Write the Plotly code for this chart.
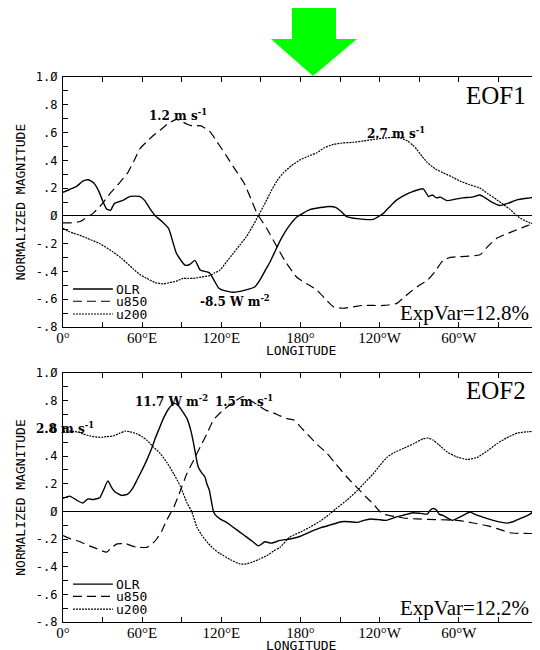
import plotly.graph_objects as go

# ---------------- data ----------------
lon_ticks = [0, 60, 120, 180, 240, 300, 360]
lon_ticktext = ["0°", "60°E", "120°E", "180°", "120°W", "60°W", "0°"]
y_ticks = [1.0, 0.8, 0.6, 0.4, 0.2, 0.0, -0.2, -0.4, -0.6, -0.8]
y_ticktext = ["1.Ø", ".8", ".6", ".4", ".2", "Ø", "-.2", "-.4", "-.6", "-.8"]
series_names = ["OLR", "u850", "u200"]

eof1_olr = [(0,0.17),(5,0.19),(10,0.21),(15,0.25),(19,0.26),(23,0.24),(27,0.18),(30,0.11),(33,0.05),(36,0.04),
            (39,0.09),(45,0.11),(51,0.14),(58,0.14),(62,0.11),(66,0.05),(70,0.0),(75,-0.04),(80,-0.09),(86,-0.27),
            (92.5,-0.355),(96,-0.35),(100,-0.32),(104,-0.39),(111,-0.41),(118,-0.52),(121,-0.535),(129,-0.55),
            (138,-0.535),(145.5,-0.51),(150,-0.45),(154,-0.38),(157,-0.33),(160,-0.27),(164.5,-0.18),(168,-0.12),
            (172,-0.065),(177,-0.01),(182,0.02),(187,0.045),(195,0.06),(202,0.068),(207,0.06),(211,0.03),
            (215,-0.005),(223,-0.02),(235,-0.025),(243,0.02),(248,0.07),(253,0.115),(259,0.15),(265,0.175),
            (273,0.195),(277,0.14),(280,0.15),(283,0.13),(286,0.135),(291,0.11),(297,0.12),(303,0.13),(310,0.135),
            (316,0.15),(320,0.13),(324,0.105),(331,0.075),(337,0.09),(344,0.115),(354,0.13),(360,0.14)]
eof1_u850 = [(0,-0.05),(6,-0.05),(13,-0.04),(18,-0.01),(23,0.02),(30,0.09),(36,0.165),(43,0.24),(49,0.31),
             (54,0.4),(58,0.48),(63,0.53),(68,0.575),(74,0.62),(79,0.66),(86,0.695),(90,0.68),(94,0.66),(99,0.645),
             (104,0.65),(111,0.61),(117,0.53),(124,0.43),(130,0.34),(137,0.24),(143,0.11),(147,0.02),(155,-0.1),
             (162,-0.22),(168,-0.32),(177,-0.44),(185,-0.49),(192.5,-0.535),(199,-0.6),(205,-0.655),(212,-0.665),
             (220,-0.655),(227,-0.645),(235,-0.645),(243,-0.645),(253,-0.63),(258,-0.59),(263,-0.55),(270,-0.5),
             (276,-0.465),(282,-0.4),(288,-0.32),(293,-0.3),(298.5,-0.295),(307,-0.29),(316,-0.28),(322,-0.22),
             (329,-0.16),(336,-0.13),(344,-0.1),(352,-0.07),(360,-0.05)]
eof1_u200 = [(0,-0.09),(4,-0.11),(8,-0.125),(13,-0.14),(18,-0.16),(28,-0.2),(38,-0.26),(45,-0.31),(53,-0.38),
             (58,-0.42),(63.5,-0.45),(70,-0.48),(76,-0.49),(81,-0.48),(86,-0.47),(91,-0.45),(95,-0.45),(99,-0.45),
             (105,-0.44),(111,-0.43),(115,-0.41),(119,-0.39),(124,-0.33),(129,-0.27),(134,-0.21),(139,-0.15),
             (144,-0.07),(148,0.0),(152,0.07),(157,0.165),(162,0.25),(167,0.31),(173,0.36),(180,0.405),(186,0.43),
             (192.5,0.455),(198,0.49),(205,0.515),(212,0.525),(220,0.53),(228,0.54),(235,0.55),(243,0.56),
             (250,0.565),(256,0.56),(261,0.54),(265,0.51),(268,0.48),(272,0.43),(276,0.385),(282,0.34),(288,0.31),
             (295,0.28),(301,0.25),(308,0.225),(316,0.2),(322,0.16),(329,0.115),(334,0.08),(339,0.045),(344,0.0),
             (349,-0.03),(354,-0.05),(360,-0.075)]

eof2_olr = [(0,0.094),(5,0.11),(10.5,0.08),(15,0.06),(19,0.09),(23,0.085),(28,0.10),(31,0.16),(34,0.22),(37,0.17),
            (39.5,0.14),(44.5,0.115),(49,0.125),(53,0.17),(56,0.225),(60,0.3),(63.5,0.37),(67,0.45),(70,0.53),
            (73,0.6),(76,0.67),(80,0.74),(84,0.78),(87,0.77),(90,0.73),(94,0.67),(97,0.58),(99,0.49),(102.5,0.32),
            (105,0.28),(107.5,0.25),(109,0.2),(111,0.15),(112.5,0.07),(114,0.0),(115,-0.02),(119,-0.055),
            (124,-0.08),(129,-0.115),(134,-0.15),(139,-0.185),(144,-0.22),(148,-0.25),(150,-0.24),(153,-0.22),
            (158,-0.23),(164.5,-0.21),(172,-0.2),(180,-0.18),(187,-0.15),(195,-0.12),(202,-0.10),(211,-0.075),
            (217,-0.075),(223,-0.08),(228,-0.065),(233,-0.055),(239,-0.06),(245,-0.065),(253,-0.04),(259,-0.025),
            (265,-0.01),(271,-0.015),(276,-0.02),(278.5,0.01),(280.5,0.02),(283,0.01),(285,-0.02),(288,-0.03),
            (295,-0.065),(301,-0.04),(305,-0.02),(308.5,-0.005),(312,-0.02),(316,-0.035),(326,-0.065),
            (336.5,-0.085),(341,-0.075),(346,-0.055),(354,-0.02),(358,0.02),(360,0.055)]
eof2_u850 = [(0,-0.175),(6,-0.2),(13,-0.22),(20,-0.25),(25.5,-0.27),(33,-0.295),(37,-0.26),(41,-0.235),
             (48,-0.235),(52,-0.25),(56,-0.26),(63.5,-0.26),(67,-0.24),(71,-0.2),(75,-0.14),(78.5,-0.065),
             (84,0.03),(89,0.15),(94,0.275),(99,0.37),(104,0.465),(109,0.56),(114,0.66),(120,0.72),(126.5,0.77),
             (131,0.8),(136.5,0.83),(140,0.81),(144,0.79),(149,0.76),(154,0.73),(160,0.71),(164.5,0.69),(170,0.67),
             (175,0.66),(181,0.6),(187,0.54),(193,0.48),(200,0.42),(207,0.34),(215,0.25),(220,0.2),(225,0.15),
             (230,0.1),(235,0.055),(239,0.01),(243,-0.02),(253,-0.04),(260,-0.05),(268,-0.055),(283,-0.06),
             (298.5,-0.065),(306,-0.075),(314,-0.09),(322,-0.105),(329,-0.125),(339,-0.155),(350,-0.16),(360,-0.16)]
eof2_u200 = [(0,0.58),(5,0.58),(10.5,0.575),(15,0.56),(20.5,0.545),(28,0.535),(33,0.54),(38,0.545),(43,0.565),
             (47,0.58),(51,0.575),(56,0.56),(60,0.54),(63.5,0.515),(68,0.47),(73.5,0.42),(79,0.35),(84,0.27),
             (89,0.18),(94,0.06),(97.5,0.0),(101.5,-0.115),(105,-0.17),(109,-0.22),(114,-0.27),(119,-0.305),
             (127,-0.35),(134,-0.38),(139,-0.38),(144,-0.365),(149,-0.345),(154.5,-0.32),(160,-0.285),
             (164.5,-0.26),(172,-0.185),(180,-0.15),(187,-0.115),(195,-0.07),(202,-0.02),(207,0.02),(215,0.08),
             (223,0.15),(229,0.21),(235,0.27),(240,0.33),(245.5,0.39),(251,0.425),(258,0.455),(266,0.49),
             (273,0.525),(277,0.53),(280.5,0.515),(285,0.48),(291,0.43),(298,0.395),(306,0.375),(314,0.39),
             (322,0.44),(329,0.49),(336,0.53),(344,0.565),(352,0.575),(360,0.58)]

panel_titles = ["EOF1", "EOF2"]
expvar_text = ["ExpVar=12.8%", "ExpVar=12.2%"]
# (lon, value, text) value labels
eof1_labels = [(87, 0.73, "1.2\u00a0m\u00a0s<sup>-1</sup>"),
               (252, 0.60, "2.7\u00a0m\u00a0s<sup>-1</sup>"),
               (130, -0.61, "-8.5\u00a0W\u00a0m<sup>-2</sup>")]
eof2_labels = [(82, 0.80, "11.7\u00a0W\u00a0m<sup>-2</sup>"),
               (137, 0.80, "1.5\u00a0m\u00a0s<sup>-1</sup>"),
               (1.5, 0.60, "2.8\u00a0m\u00a0s<sup>-1</sup>")]

# ---------------- geometry ----------------
# The page body has an 8 px margin, so the figure is drawn 8 px right and down.
OFF = 8
SW, SH = 540, 650                   # screen size
PL, PR, PT, PB = 63, 538, 77, 622   # plot area on screen
W, H = SW - OFF, SH - OFF
L, T = PL - OFF, PT - OFF
R, B = (OFF + W) - PR, (OFF + H) - PB
PW, PH = PR - PL, PB - PT


def px2x(px):
    return (px - PL) / PW


def py2y(py):
    return (PB - py) / PH


styles = {
    "OLR": dict(color="black", width=1.4, dash="solid"),
    "u850": dict(color="black", width=1.2, dash="9px,5px"),
    "u200": dict(color="black", width=1.2, dash="2px,1px"),
}

mono = "DejaVu Sans Mono, monospace"
serif = "Liberation Serif, Times New Roman, serif"
lab_font = dict(family="DejaVu Serif, serif", size=12, color="black")

fig = go.Figure()
panels = [(eof1_olr, eof1_u850, eof1_u200), (eof2_olr, eof2_u850, eof2_u200)]
for i, data in enumerate(panels):
    xa = "x" if i == 0 else "x2"
    ya = "y" if i == 0 else "y2"
    for name, pts in zip(series_names, data):
        fig.add_trace(go.Scatter(
            x=[p[0] for p in pts], y=[p[1] for p in pts], mode="lines", name=name,
            line=dict(shape="spline", smoothing=0.5, **styles[name]),
            xaxis=xa, yaxis=ya, showlegend=False, hoverinfo="skip"))

axis_common = dict(showline=True, linecolor="black", linewidth=1.3, mirror="allticks",
                   ticks="inside", ticklen=5, tickwidth=1, tickcolor="black", showgrid=False)
xaxis_common = dict(axis_common, range=[0, 360], tickmode="array", tickvals=lon_ticks,
                    ticktext=lon_ticktext, zeroline=False, ticklabelstandoff=-3,
                    tickfont=dict(family=serif, size=15, color="black"),
                    minor=dict(tickmode="linear", tick0=0, dtick=30, ticks="inside", ticklen=5,
                               tickcolor="black", showgrid=False))
yaxis_common = dict(axis_common, range=[-0.8, 1.0], tickmode="array", tickvals=y_ticks,
                    ticktext=y_ticktext, zeroline=True, zerolinecolor="black", zerolinewidth=1.2,
                    tickfont=dict(family=mono, size=12, color="black"), ticklabelstandoff=2,
                    minor=dict(tickmode="linear", tick0=0, dtick=0.1, ticks="inside", ticklen=5,
                               tickcolor="black", showgrid=False),
                    title=dict(text="NORMALIZED MAGNITUDE", font=dict(family=mono, size=13, color="black"),
                               standoff=7))

top_dom = [py2y(327), 1.0]
bot_dom = [0.0, py2y(373)]

fig.update_layout(
    width=W, height=H, margin=dict(l=L, r=R, t=T, b=B, autoexpand=False),
    paper_bgcolor="white", plot_bgcolor="white", showlegend=False,
    xaxis=dict(xaxis_common, anchor="y", domain=[0, 1]),
    yaxis=dict(yaxis_common, anchor="x", domain=top_dom),
    xaxis2=dict(xaxis_common, anchor="y2", domain=[0, 1]),
    yaxis2=dict(yaxis_common, anchor="x2", domain=bot_dom),
)

annotations = []
shapes = []
for i in range(2):
    xr = "x" if i == 0 else "x2"
    yr = "y" if i == 0 else "y2"
    annotations.append(dict(text=panel_titles[i], xref=xr + " domain", yref=yr + " domain",
                            x=0.978, y=0.99, xanchor="right", yanchor="top", showarrow=False,
                            font=dict(family=serif, size=25, color="black")))
    annotations.append(dict(text=expvar_text[i], xref=xr + " domain", yref=yr + " domain",
                            x=0.985, y=0.0, xanchor="right", yanchor="bottom", showarrow=False,
                            font=dict(family=serif, size=21, color="black")))
    annotations.append(dict(text="LONGITUDE", xref=xr + " domain", yref=yr + " domain",
                            x=0.5, y=0, yshift=-14, xanchor="center", yanchor="top", showarrow=False,
                            font=dict(family=mono, size=13, color="black")))
    for (lx, ly, t) in (eof1_labels if i == 0 else eof2_labels):
        annotations.append(dict(text="<b>" + t + "</b>", xref=xr, yref=yr, x=lx, y=ly,
                                showarrow=False, xanchor="center", yanchor="middle", font=lab_font))
    leg_y = [0.152, 0.103, 0.052]
    for name, ly in zip(series_names, leg_y):
        st = styles[name]
        shapes.append(dict(type="line", xref=xr + " domain", yref=yr + " domain",
                           x0=0.021, x1=0.105, y0=ly, y1=ly,
                           line=dict(color="black", width=st["width"], dash=st["dash"])))
        annotations.append(dict(text=name, xref=xr + " domain", yref=yr + " domain",
                                x=0.108, y=ly, xanchor="left", yanchor="middle", showarrow=False,
                                font=dict(family=mono, size=13, color="black")))

# green arrow above the figure
arrow_px = [(292, 5), (336, 5), (336, 39), (357, 39), (313, 76), (271, 39), (292, 39)]
path = "M " + " L ".join(f"{px2x(a):.4f},{py2y(b):.4f}" for a, b in arrow_px) + " Z"
shapes.append(dict(type="path", xref="paper", yref="paper", path=path,
                   fillcolor="#00FF00", line=dict(width=0), layer="above"))

fig.update_layout(annotations=annotations, shapes=shapes)
fig.write_html("out.html")
